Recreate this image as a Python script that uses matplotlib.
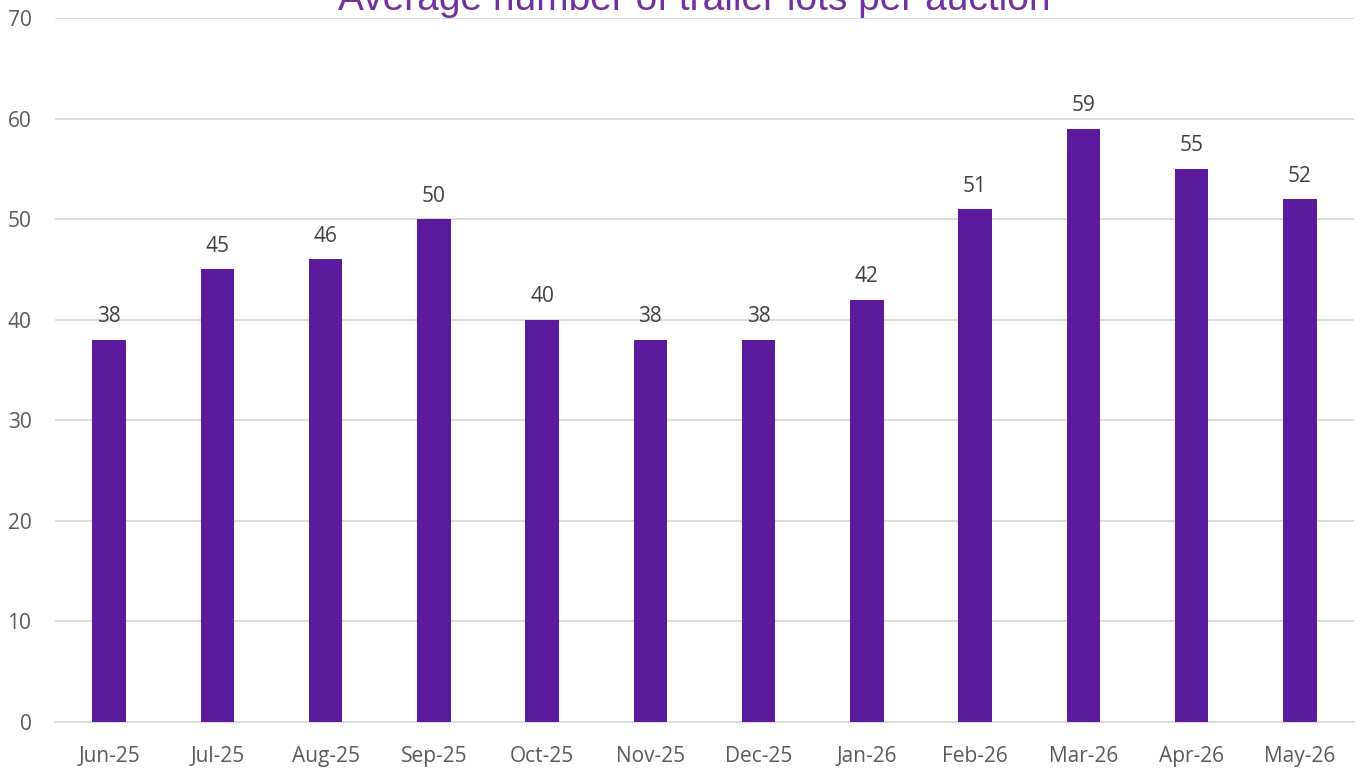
import matplotlib
matplotlib.use("Agg")
import matplotlib.pyplot as plt

months = ["Jun-25", "Jul-25", "Aug-25", "Sep-25", "Oct-25", "Nov-25",
          "Dec-25", "Jan-26", "Feb-26", "Mar-26", "Apr-26", "May-26"]
avg_lots = [38, 45, 46, 50, 40, 38, 38, 42, 51, 59, 55, 52]
y_ticks = [0, 10, 20, 30, 40, 50, 60, 70]

bar_color = "#5B1A9C"
grid_color = "#D9D9D9"
tick_color = "#595959"
label_color = "#404040"
title_color = "#7030A0"
text_font = ["Open Sans", "DejaVu Sans"]

fig = plt.figure(figsize=(13.59, 7.69), dpi=100)
ax = fig.add_axes([0.0405, 0.0611, 0.9558, 0.9155])

x = range(len(months))
bars = ax.bar(x, avg_lots, width=0.31, color=bar_color, zorder=3)
for rect, v in zip(bars, avg_lots):
    ax.annotate(f"{v}", (rect.get_x() + rect.get_width() / 2, v),
                xytext=(0, 9), textcoords="offset points",
                ha="center", va="bottom", fontsize=15,
                color=label_color, family=text_font)

ax.set_xlim(-0.5, len(months) - 0.5)
ax.set_ylim(0, 70)
ax.set_yticks(y_ticks)
ax.set_xticks(list(x))
ax.set_xticklabels(months)
ax.yaxis.grid(True, color=grid_color, linewidth=1.3, zorder=0)
ax.set_axisbelow(True)
for s in ["top", "right", "left"]:
    ax.spines[s].set_visible(False)
ax.spines["bottom"].set_color(grid_color)
ax.spines["bottom"].set_linewidth(1.3)
ax.tick_params(axis="both", length=0, labelsize=15, colors=tick_color)
ax.tick_params(axis="x", pad=17)
ax.tick_params(axis="y", pad=17)
for lbl in ax.get_xticklabels() + ax.get_yticklabels():
    lbl.set_family(text_font)

fig.text(0.5107, 1 - 10 / 769, "Average number of trailer lots per auction",
         ha="center", va="baseline", fontsize=28, color=title_color,
         family=["Liberation Sans", "DejaVu Sans"])

fig.savefig("out.png", dpi=100)
